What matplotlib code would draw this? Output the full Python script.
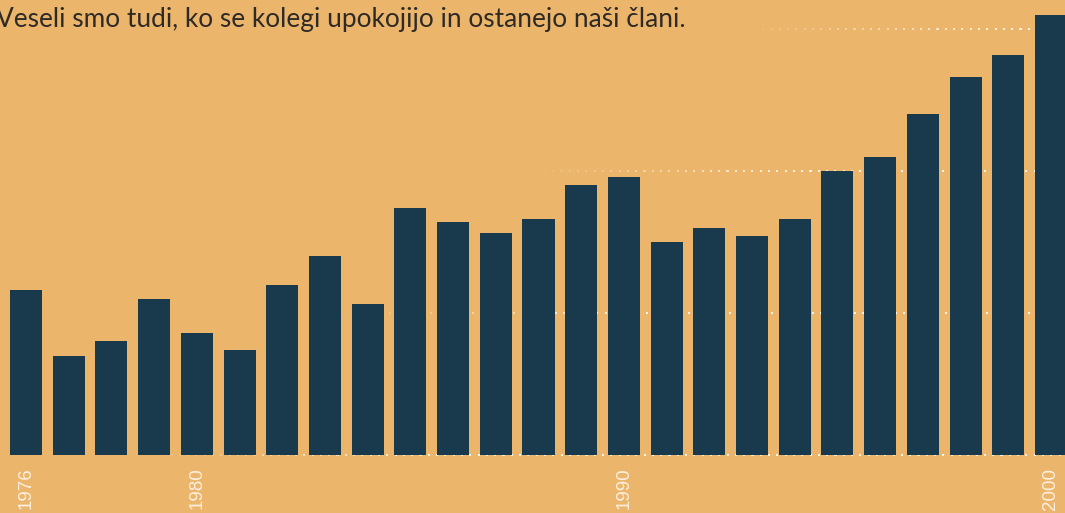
import matplotlib
matplotlib.use("Agg")
import matplotlib.pyplot as plt
import numpy as np

years = list(range(1976, 2001))
values = [116, 70, 80, 110, 86, 74, 120, 140, 106, 174, 164, 156, 166, 190, 196,
          150, 160, 154, 166, 200, 210, 240, 266, 282, 310]
tick_years = [1976, 1980, 1990, 2000]
grid_values = [0, 100, 200, 300]
grid_fade_start = [130, 340, 520, 730]  # pixel x where each gridline starts to appear
title = "Veseli smo tudi, ko se kolegi upokojijo in ostanejo naši člani."

BG = "#ECB56C"
BAR = "#19394D"
W, H = 1065, 513

fig = plt.figure(figsize=(W / 100, H / 100), dpi=100, facecolor=BG)
ax = fig.add_axes([0, 58 / H, 1, 455 / H])
ax.set_facecolor(BG)

x = np.arange(len(years))
step_px = (1051 - 26) / 24
xmin = -26 / step_px
xmax = xmin + W / step_px
ax.set_xlim(xmin, xmax)
ymax = 455 / 142 * 100
ax.set_ylim(0, ymax)

ax.bar(x, values, width=0.75, color=BAR, zorder=2)

# faded dotted gridlines
dot_px = 8.3
for gv, start in zip(grid_values, grid_fade_start):
    px = np.arange(start, W, dot_px)
    alpha = np.clip((px - start) / 280.0, 0.05, 1) * 0.85
    cols = np.zeros((len(px), 4))
    cols[:, :3] = 1.0
    cols[:, 3] = alpha
    xd = xmin + px / step_px
    ax.scatter(xd, np.full(len(px), gv), s=2.4, marker="s", c=cols,
               linewidths=0, zorder=1, clip_on=False)

for sp in ax.spines.values():
    sp.set_visible(False)
ax.set_yticks([])
ax.set_xticks([years.index(y) for y in tick_years])
ax.set_xticklabels([str(y) for y in tick_years], rotation=90, color="#FBF0E0",
                   fontsize=13.5, family="Liberation Sans", va="top")
ax.tick_params(axis="x", length=0, pad=9)

fig.text(-0.004, (H - 27) / H, title, fontsize=18.9, family="Lato",
         color="#2E2A26", ha="left", va="baseline")

fig.savefig("out.png", dpi=100, facecolor=BG)
